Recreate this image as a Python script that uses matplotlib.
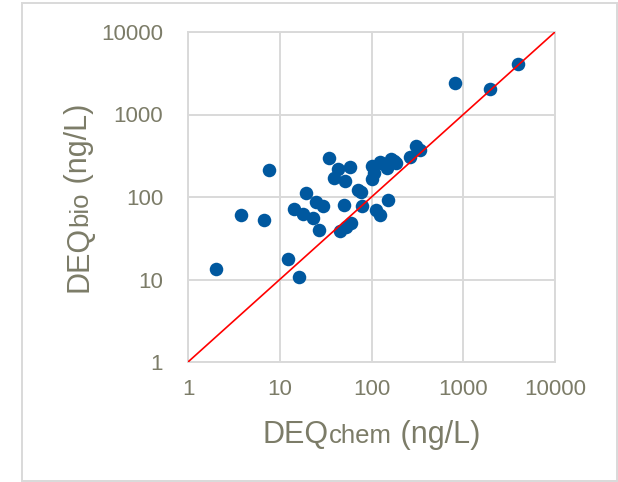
import matplotlib.pyplot as plt
from matplotlib.patches import Rectangle

plt.rcParams['font.family'] = ['Liberation Sans', 'DejaVu Sans']

# DEQ values (ng/L)
deq_chem = [2.0, 3.8, 6.7, 7.7, 12.3, 16.2, 14.2, 18.0, 19.3, 23.0,
            25.1, 29.7, 26.8, 34.6, 38.9, 43, 51, 59, 50.5, 45,
            53, 60, 71, 76, 78, 100, 102, 106, 111, 123,
            124, 153, 148, 165, 187, 175, 128, 264, 305, 341,
            816, 1950, 3940]
deq_bio = [13.5, 60, 52.5, 210, 17.5, 10.6, 71, 63, 113, 56,
           88, 77, 40, 294, 169, 220, 155, 234, 79, 38.6,
           43.5, 48, 120, 114, 77, 240, 164, 194, 69, 61,
           266, 91, 223, 290, 256, 270, 261, 305, 415, 371,
           2410, 2056, 4095]
one_to_one = [1, 10000]
ticks = [1, 10, 100, 1000, 10000]
tick_labels = ['1', '10', '100', '1000', '10000']

text_col = '#7c7c68'
grid_col = '#d9d9d9'

W, H = 618, 482
fig = plt.figure(figsize=(W / 100, H / 100), dpi=100)
ax = fig.add_axes([188 / W, 1 - 362 / H, (555 - 188) / W, (362 - 32) / H])

ax.scatter(deq_chem, deq_bio, s=95, color='#00589f', linewidths=0, zorder=3)
ax.plot(one_to_one, one_to_one, color='#ff0000', lw=1.2, zorder=4)

ax.set_xscale('log')
ax.set_yscale('log')
ax.set_xlim(1, 10000)
ax.set_ylim(1, 10000)
ax.set_xticks(ticks)
ax.set_xticklabels(tick_labels)
ax.set_yticks(ticks)
ax.set_yticklabels(tick_labels)
ax.minorticks_off()
ax.tick_params(length=0, labelsize=16, labelcolor=text_col)
ax.tick_params(axis='x', pad=12)
ax.tick_params(axis='y', pad=18)
ax.grid(True, color=grid_col, lw=1.4)
ax.set_axisbelow(True)
for sp in ax.spines.values():
    sp.set_color(grid_col)
    sp.set_linewidth(1.4)

# outer frame
fig.patches.append(Rectangle((22 / W, 1 / H), (617 - 22) / W, (479 - 1) / H,
                             transform=fig.transFigure, fill=False,
                             edgecolor=grid_col, lw=1.4))

# axis titles with smaller "chem" / "bio"
fig.canvas.draw()
r = fig.canvas.get_renderer()


def add_label(parts, center, base, vertical):
    texts = []
    for s, size in parts:
        t = fig.text(0, 0, s, fontsize=size, color=text_col, ha='left',
                     va='baseline', rotation=90 if vertical else 0,
                     rotation_mode='anchor')
        texts.append(t)
    sizes = []
    for t in texts:
        bb = t.get_window_extent(r)
        sizes.append(bb.height if vertical else bb.width)
    pos = center - sum(sizes) / 2
    for t, w in zip(texts, sizes):
        if vertical:
            t.set_position((base / W, pos / H))
        else:
            t.set_position((pos / W, base / H))
        pos += w


add_label([('DEQ', 22), ('chem', 18.5), (' (ng/L)', 22)], 371.5, H - 443, False)
add_label([('DEQ', 22), ('bio', 18.5), (' (ng/L)', 22)], H - 198, 87, True)

fig.savefig('out.png', dpi=100)
